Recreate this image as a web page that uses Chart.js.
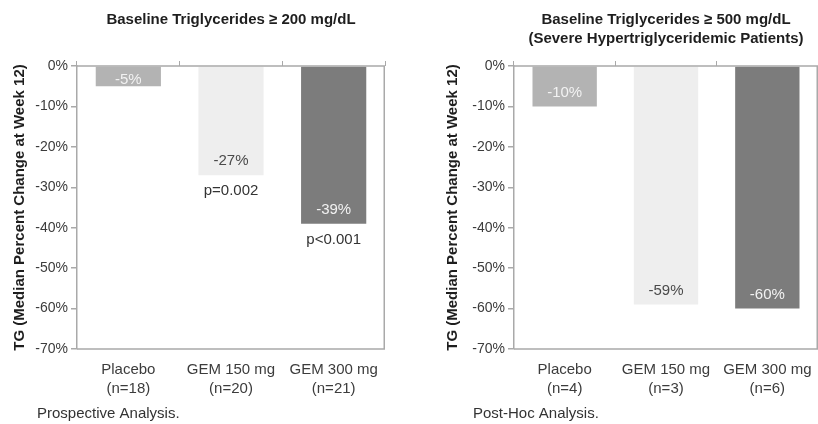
<!DOCTYPE html>
<html><head><meta charset="utf-8">
<script src="https://cdn.jsdelivr.net/npm/chart.js@4"></script>
<style>
html,body{margin:0;padding:0;background:#fff;}
#wrap{position:relative;width:818px;height:424px;overflow:hidden;background:#fff;}
canvas{position:absolute;top:0;}
#c1{left:0}
#c2{left:410px}
</style></head><body>
<div id="wrap"><canvas id="c1" width="410" height="424"></canvas><canvas id="c2" width="408" height="424"></canvas></div>
<script>
// ---- data ----
const groups = ["Placebo", "GEM 150 mg", "GEM 300 mg"];
const nProspective = ["(n=18)", "(n=20)", "(n=21)"];
const nPostHoc = ["(n=4)", "(n=3)", "(n=6)"];
const tgChangeProspective = [-5, -27, -39];
const tgChangePostHoc = [-10, -59, -60];
const pValuesProspective = ["", "p=0.002", "p<0.001"];
const pValuesPostHoc = ["", "", ""];
const yTicks = [0, -10, -20, -30, -40, -50, -60, -70];
const titleProspective = ["Baseline Triglycerides \u2265 200 mg/dL"];
const titlePostHoc = ["Baseline Triglycerides \u2265 500 mg/dL", "(Severe Hypertriglyceridemic Patients)"];
const yTitle = "TG (Median Percent Change at Week 12)";
const footProspective = "Prospective Analysis.";
const footPostHoc = "Post-Hoc Analysis.";

// ---- styles ----
const FONT = "'Liberation Sans', Arial, Helvetica, sans-serif";
const barColors = ["#b3b3b3", "#eeeeee", "#7c7c7c"];
const labelColors = ["#f2f2f2", "#4a4a4a", "#f2f2f2"];
const frameColor = "#a9a9a9";
const textColor = "#3c3c3c";

const annotPlugin = {
  id: "annot",
  afterDatasetsDraw(chart, args, opts) {
    const ctx = chart.ctx;
    const ca = chart.chartArea;
    const ys = chart.scales.y;
    ctx.save();
    // frame
    ctx.strokeStyle = frameColor;
    ctx.lineWidth = 1.5;
    ctx.beginPath();
    ctx.moveTo(ca.left, ca.top); ctx.lineTo(ca.right - 0.75, ca.top);
    ctx.lineTo(ca.right - 0.75, ca.bottom); ctx.lineTo(ca.left, ca.bottom);
    ctx.stroke();
    // value labels & p values
    const meta = chart.getDatasetMeta(0);
    const vals = chart.data.datasets[0].data;
    const yZero = ys.getPixelForValue(0);
    ctx.font = "15px " + FONT;
    ctx.textAlign = "center";
    ctx.textBaseline = "middle";
    meta.data.forEach((bar, i) => {
      const yEnd = bar.y;
      const ly = Math.max(yEnd - 14, yZero + 14);
      ctx.fillStyle = labelColors[i];
      ctx.fillText(vals[i] + "%", bar.x, ly);
      if (opts.pvals && opts.pvals[i]) {
        ctx.fillStyle = "#333";
        ctx.fillText(opts.pvals[i], bar.x, yEnd + 16);
      }
    });
    // titles
    ctx.fillStyle = "#1e1e1e";
    ctx.font = "bold 15px " + FONT;
    const cx = (ca.left + ca.right) / 2;
    opts.title.forEach((t, i) => ctx.fillText(t, cx, 20 + i * 19));
    // footnote
    ctx.font = "15px " + FONT;
    ctx.fillStyle = "#333";
    ctx.textAlign = "left";
    ctx.fillText(opts.foot, opts.footX, 414);
    ctx.restore();
  }
};

function makeChart(id, values, nLabels, pvals, title, foot, footX, yWidth, yTitlePad, padRight) {
  const labels = groups.map((g, i) => [g, nLabels[i]]);
  return new Chart(document.getElementById(id), {
    type: "bar",
    data: {
      labels: labels,
      datasets: [{
        data: values,
        backgroundColor: barColors,
        borderWidth: 0,
        categoryPercentage: 1.0,
        barPercentage: 0.635
      }]
    },
    options: {
      responsive: false,
      animation: false,
      devicePixelRatio: 1,
      layout: { padding: { left: 0, right: padRight, top: 61, bottom: 25 } },
      plugins: {
        legend: { display: false },
        tooltip: { enabled: false },
        annot: { pvals: pvals, title: title, foot: foot, footX: footX }
      },
      scales: {
        x: {
          position: "bottom",
          offset: true,
          grid: { display: false, drawTicks: false },
          border: { display: false },
          ticks: {
            color: textColor,
            font: { family: FONT, size: 15, lineHeight: 1.27 },
            padding: 11,
            maxRotation: 0, autoSkip: false
          },
          afterFit(s) { s.height = 50; s.paddingLeft = 0; s.paddingRight = 0; }
        },
        x2: {
          type: "category",
          position: "top",
          labels: groups,
          offset: true,
          grid: { display: true, drawOnChartArea: false, drawTicks: true, tickLength: 5, offset: true, color: frameColor, lineWidth: 1 },
          border: { display: false },
          ticks: { display: false },
          afterFit(s) { s.height = 5; s.paddingLeft = 0; s.paddingRight = 0; }
        },
        y: {
          min: -70, max: 0,
          afterBuildTicks(s) { s.ticks = yTicks.map(v => ({ value: v })); },
          grid: { drawOnChartArea: false, drawTicks: true, tickLength: 6, color: frameColor, lineWidth: 1.5 },
          border: { display: true, color: frameColor, width: 1.5 },
          ticks: {
            color: textColor,
            font: { family: FONT, size: 14 },
            padding: 3,
            callback: v => v + "%"
          },
          title: {
            display: true,
            text: yTitle,
            color: "#1e1e1e",
            font: { family: FONT, size: 15, weight: "bold", lineHeight: 1.2 },
            padding: { top: yTitlePad, bottom: 0 }
          },
          afterFit(s) { s.width = yWidth; s.paddingTop = 0; s.paddingBottom = 0; }
        }
      }
    },
    plugins: [annotPlugin]
  });
}

makeChart("c1", tgChangeProspective, nProspective, pValuesProspective, titleProspective, footProspective, 37, 77, 11, 25);
makeChart("c2", tgChangePostHoc, nPostHoc, pValuesPostHoc, titlePostHoc, footPostHoc, 63, 104, 34, 0);
</script>
</body></html>
